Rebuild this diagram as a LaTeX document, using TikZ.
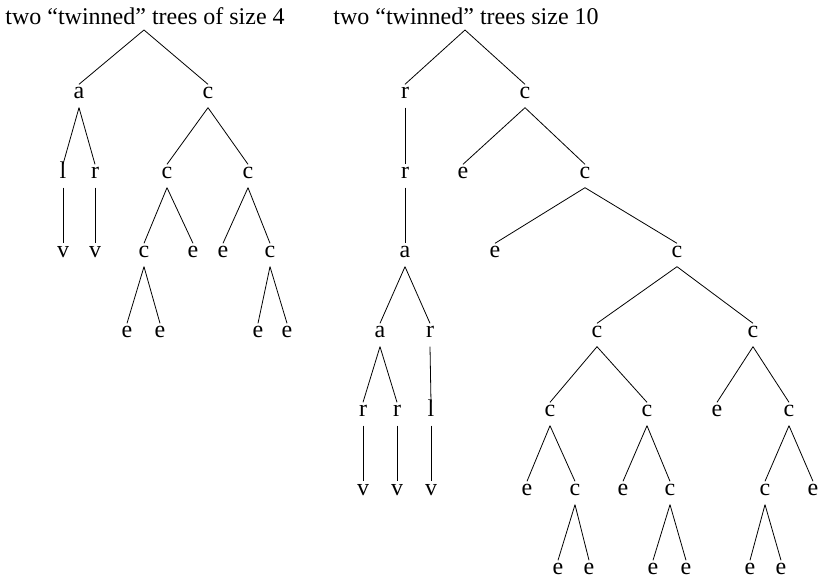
\documentclass[tikz,border=0pt]{standalone}
\usepackage{fontspec}
\setmainfont{Liberation Serif}
\tikzset{
  lbl/.style={inner xsep=2pt, inner ysep=9pt, text height=1ex, text depth=0pt},
  ttl/.style={anchor=base west, inner sep=0pt},
}
\begin{document}
\begin{tikzpicture}[x=1pt,y=-1pt,line width=0.8pt,font=\fontsize{24}{28}\selectfont]
			\useasboundingbox (0,0) rectangle (820,586);
			% titles
			\node (t1) at (5,25) [ttl] {two ``twinned'' trees of size 4};
			\node (t2) at (333,25) [ttl] {two ``twinned'' trees size 10};
			% left tree
			\coordinate (L0) at (144,30);
			\node	(La) at (79,96) [lbl] {a};
			\node	(Lc) at (208,96) [lbl] {c};
			\node	(Ll) at (63,176) [lbl] {l};
			\node	(Lr) at (95,176) [lbl] {r};
			\node	(Lc1) at (167,176) [lbl] {c};
			\node	(Lc2) at (248,176) [lbl] {c};
			\node	(Lv1) at (63,255) [lbl] {v};
			\node	(Lv2) at (95,255) [lbl] {v};
			\node	(Lc3) at (144,255) [lbl] {c};
			\node	(Le1) at (193,255) [lbl] {e};
			\node	(Le2) at (223,255) [lbl] {e};
			\node	(Lc4) at (270,255) [lbl] {c};
			\node	(Le3) at (127,335) [lbl] {e};
			\node	(Le4) at (160,335) [lbl] {e};
			\node	(Le5) at (258,335) [lbl] {e};
			\node	(Le6) at (287,335) [lbl] {e};
			\draw
			(L0) edge (La.north)
			(L0) edge (Lc.north)
			(La.south) edge (Ll.north)
			(La.south) edge (Lr.north)
			(Ll.south) edge (Lv1.north)
			(Lr.south) edge (Lv2.north)
			(Lc.south) edge (Lc1.north)
			(Lc.south) edge (Lc2.north)
			(Lc1.south) edge (Lc3.north)
			(Lc1.south) edge (Le1.north)
			(Lc2.south) edge (Le2.north)
			(Lc2.south) edge (Lc4.north)
			(Lc3.south) edge (Le3.north)
			(Lc3.south) edge (Le4.north)
			(Lc4.south) edge (Le5.north)
			(Lc4.south) edge (Le6.north)
			;
			% right tree
			\coordinate (R0) at (465,30);
			\node	(Rr1) at (405,96) [lbl] {r};
			\node	(Rc1) at (525,96) [lbl] {c};
			\node	(Rr2) at (405,176) [lbl] {r};
			\node	(Re1) at (463,176) [lbl] {e};
			\node	(Rc2) at (585,176) [lbl] {c};
			\node	(Ra1) at (405,255) [lbl] {a};
			\node	(Re2) at (495,255) [lbl] {e};
			\node	(Rc3) at (677,255) [lbl] {c};
			\node	(Ra2) at (380,335) [lbl] {a};
			\node	(Rr3) at (430,335) [lbl] {r};
			\node	(Rc4) at (597,335) [lbl] {c};
			\node	(Rc5) at (753,335) [lbl] {c};
			\node	(Rr4) at (363,414) [lbl] {r};
			\node	(Rr5) at (397,414) [lbl] {r};
			\node	(Rl1) at (431,414) [lbl] {l};
			\node	(Rc6) at (550,414) [lbl] {c};
			\node	(Rc7) at (647,414) [lbl] {c};
			\node	(Re3) at (717,414) [lbl] {e};
			\node	(Rc8) at (789,414) [lbl] {c};
			\node	(Rv1) at (363,493) [lbl] {v};
			\node	(Rv2) at (397,493) [lbl] {v};
			\node	(Rv3) at (431,493) [lbl] {v};
			\node	(Re4) at (527,493) [lbl] {e};
			\node	(Rc9) at (575,493) [lbl] {c};
			\node	(Re5) at (623,493) [lbl] {e};
			\node	(Rc10) at (670,493) [lbl] {c};
			\node	(Rc11) at (765,493) [lbl] {c};
			\node	(Re6) at (813,493) [lbl] {e};
			\node	(Re7) at (558,572) [lbl] {e};
			\node	(Re8) at (589,572) [lbl] {e};
			\node	(Re9) at (653,572) [lbl] {e};
			\node	(Re10) at (686,572) [lbl] {e};
			\node	(Re11) at (750,572) [lbl] {e};
			\node	(Re12) at (781,572) [lbl] {e};
			\draw
			(R0) edge (Rr1.north)
			(R0) edge (Rc1.north)
			(Rr1.south) edge (Rr2.north)
			(Rr2.south) edge (Ra1.north)
			(Ra1.south) edge (Ra2.north)
			(Ra1.south) edge (Rr3.north)
			(Ra2.south) edge (Rr4.north)
			(Ra2.south) edge (Rr5.north)
			(Rr4.south) edge (Rv1.north)
			(Rr5.south) edge (Rv2.north)
			(Rr3.south) edge (Rl1.north)
			(Rl1.south) edge (Rv3.north)
			(Rc1.south) edge (Re1.north)
			(Rc1.south) edge (Rc2.north)
			(Rc2.south) edge (Re2.north)
			(Rc2.south) edge (Rc3.north)
			(Rc3.south) edge (Rc4.north)
			(Rc3.south) edge (Rc5.north)
			(Rc4.south) edge (Rc6.north)
			(Rc4.south) edge (Rc7.north)
			(Rc6.south) edge (Re4.north)
			(Rc6.south) edge (Rc9.north)
			(Rc9.south) edge (Re7.north)
			(Rc9.south) edge (Re8.north)
			(Rc7.south) edge (Re5.north)
			(Rc7.south) edge (Rc10.north)
			(Rc10.south) edge (Re9.north)
			(Rc10.south) edge (Re10.north)
			(Rc5.south) edge (Re3.north)
			(Rc5.south) edge (Rc8.north)
			(Rc8.south) edge (Rc11.north)
			(Rc8.south) edge (Re6.north)
			(Rc11.south) edge (Re11.north)
			(Rc11.south) edge (Re12.north)
			;
		\end{tikzpicture}
\end{document}
